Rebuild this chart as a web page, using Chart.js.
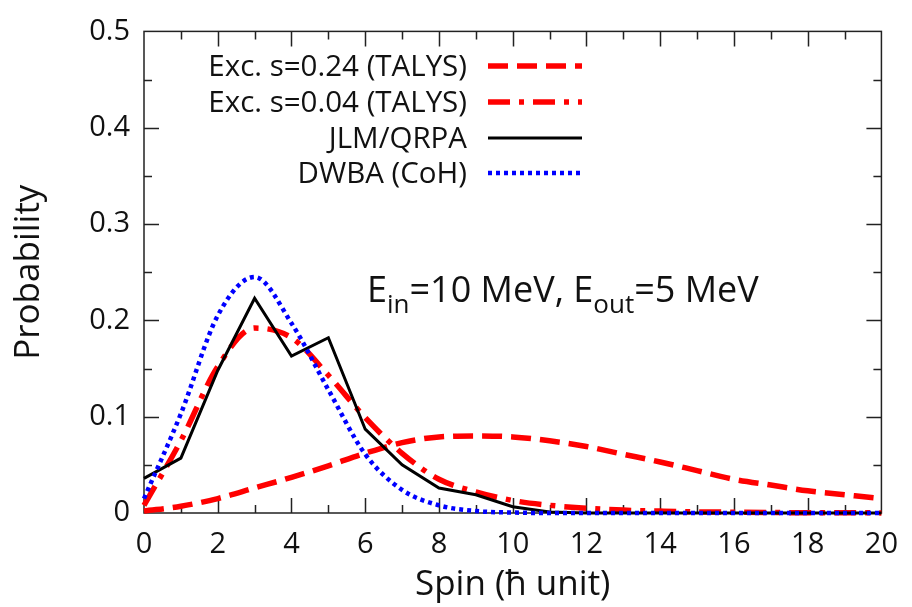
<!DOCTYPE html>
<html>
<head>
<meta charset="utf-8">
<script src="https://cdn.jsdelivr.net/npm/chart.js@4/dist/chart.umd.min.js"></script>
<style>
html,body{margin:0;padding:0;background:#fff;}
#wrap{width:912px;height:607px;}
</style>
</head>
<body>
<div id="wrap"><canvas id="spinChart" width="912" height="607"></canvas></div>
<script>
// spin values (hbar units) and the four probability curves
const spins=[0,1,2,3,4,5,6,7,8,9,10,11,12,13,14,15,16,17,18,19,20];
const excS024=[0.002,0.007,0.015,0.026,0.037,0.049,0.062,0.073,0.079,0.080,0.079,0.075,0.069,0.061,0.053,0.044,0.035,0.029,0.023,0.019,0.015];
const excS004=[0.008,0.075,0.152,0.192,0.182,0.143,0.099,0.062,0.035,0.022,0.013,0.008,0.005,0.003,0.002,0.0012,0.0008,0.0005,0.0003,0.0002,0.0001];
const jlmQrpa=[0.036,0.057,0.148,0.223,0.163,0.182,0.087,0.050,0.026,0.019,0.0065,0.001,0,0,0,0,0,0,0,0,0];
const dwbaCoh=[0.015,0.103,0.205,0.245,0.197,0.128,0.061,0.024,0.008,0.002,0.0005,0,0,0,0,0,0,0,0,0,0];

const seriesLabels=["Exc. s=0.24 (TALYS)","Exc. s=0.04 (TALYS)","JLM/QRPA","DWBA (CoH)"];
const xTitle="Spin (\u0127 unit)";
const yTitle="Probability";

const FONT="'Open Sans', 'DejaVu Sans', sans-serif";

function pts(vals){
  return spins.map((s,i)=>({x:s,y:vals[i]}));
}

const styles=[
  {color:"#ff0000",width:5.5,dash:[20,9],smooth:true},
  {color:"#ff0000",width:5.5,dash:[22,9,5,9],smooth:true},
  {color:"#000000",width:3,dash:[],smooth:false},
  {color:"#0000ff",width:4.5,dash:[4,4],smooth:true}
];
const seriesVals=[excS024,excS004,jlmQrpa,dwbaCoh];

// box with inward ticks on all four sides, drawn under the curves
const frameTicks={
  id:'frameTicks',
  beforeDatasetsDraw(chart){
    const {ctx,chartArea:a,scales:{x,y}}=chart;
    ctx.save();
    ctx.strokeStyle="#222";
    ctx.lineWidth=1.5;
    ctx.setLineDash([]);
    ctx.strokeRect(a.left,a.top,a.right-a.left,a.bottom-a.top);
    ctx.beginPath();
    for(let v=1;v<20;v++){
      const px=Math.round(x.getPixelForValue(v))+0.5;
      const len=v%2===0?15:8;
      ctx.moveTo(px,a.bottom);ctx.lineTo(px,a.bottom-len);
      ctx.moveTo(px,a.top);ctx.lineTo(px,a.top+len);
    }
    for(let k=1;k<10;k++){
      const py=Math.round(y.getPixelForValue(k*0.05))+0.5;
      const len=k%2===0?15:8;
      ctx.moveTo(a.left,py);ctx.lineTo(a.left+len,py);
      ctx.moveTo(a.right,py);ctx.lineTo(a.right-len,py);
    }
    ctx.stroke();
    ctx.restore();
  }
};

// legend: text right-aligned, line sample to its right
const keyBox={
  id:'keyBox',
  afterDraw(chart){
    const ctx=chart.ctx;
    ctx.save();
    ctx.font="29.5px "+FONT;
    ctx.fillStyle="#111";
    ctx.textAlign="right";
    ctx.textBaseline="alphabetic";
    const rows=[66,102,138,173];
    seriesLabels.forEach((lab,i)=>{
      ctx.fillText(lab,467,rows[i]+10);
      const st=styles[i];
      ctx.strokeStyle=st.color;
      ctx.lineWidth=st.width;
      ctx.setLineDash(st.dash);
      ctx.beginPath();
      ctx.moveTo(488,rows[i]);ctx.lineTo(582,rows[i]);
      ctx.stroke();
    });
    ctx.restore();

    // energy annotation with subscripts
    ctx.save();
    ctx.fillStyle="#111";
    ctx.textAlign="left";
    ctx.textBaseline="alphabetic";
    const parts=[["E",false],["in",true],["=10 MeV, E",false],["out",true],["=5 MeV",false]];
    let cx=367;
    const base=302;
    parts.forEach(([t,sub])=>{
      ctx.font=(sub?"26px ":"36px ")+FONT;
      ctx.fillText(t,cx,sub?base+11:base);
      cx+=ctx.measureText(t).width;
    });
    ctx.restore();
  }
};

const chart=new Chart(document.getElementById("spinChart"),{
  type:'line',
  data:{
    datasets:seriesLabels.map((lab,i)=>({
      label:lab,
      data:pts(seriesVals[i]),
      borderColor:styles[i].color,
      borderWidth:styles[i].width,
      borderDash:styles[i].dash,
      borderCapStyle:'butt',
      pointRadius:0,
      fill:false,
      clip:6,
      cubicInterpolationMode:styles[i].smooth?'monotone':'default',
      tension:0,
      order:[3,2,1,0][i]
    }))
  },
  options:{
    responsive:false,
    animation:false,
    devicePixelRatio:1,
    layout:{padding:{top:24,right:25,left:0,bottom:0}},
    plugins:{legend:{display:false},tooltip:{enabled:false}},
    scales:{
      x:{
        type:'linear',min:0,max:20,
        grid:{display:false,drawTicks:false},
        border:{display:false},
        ticks:{stepSize:2,padding:14,color:"#111",font:{family:FONT,size:29},maxRotation:0},
        title:{display:true,text:xTitle,color:"#111",font:{family:FONT,size:35},padding:{top:0,bottom:1}},
        afterFit(s){s.height=94;}
      },
      y:{
        min:0,max:0.5,
        grid:{display:false,drawTicks:false},
        border:{display:false},
        ticks:{stepSize:0.1,padding:14,color:"#111",font:{family:FONT,size:29}},
        title:{display:true,text:yTitle,color:"#111",font:{family:FONT,size:35},padding:{top:8,bottom:0}},
        afterFit(s){s.width=144;}
      }
    }
  },
  plugins:[frameTicks,keyBox]
});
</script>
</body>
</html>
